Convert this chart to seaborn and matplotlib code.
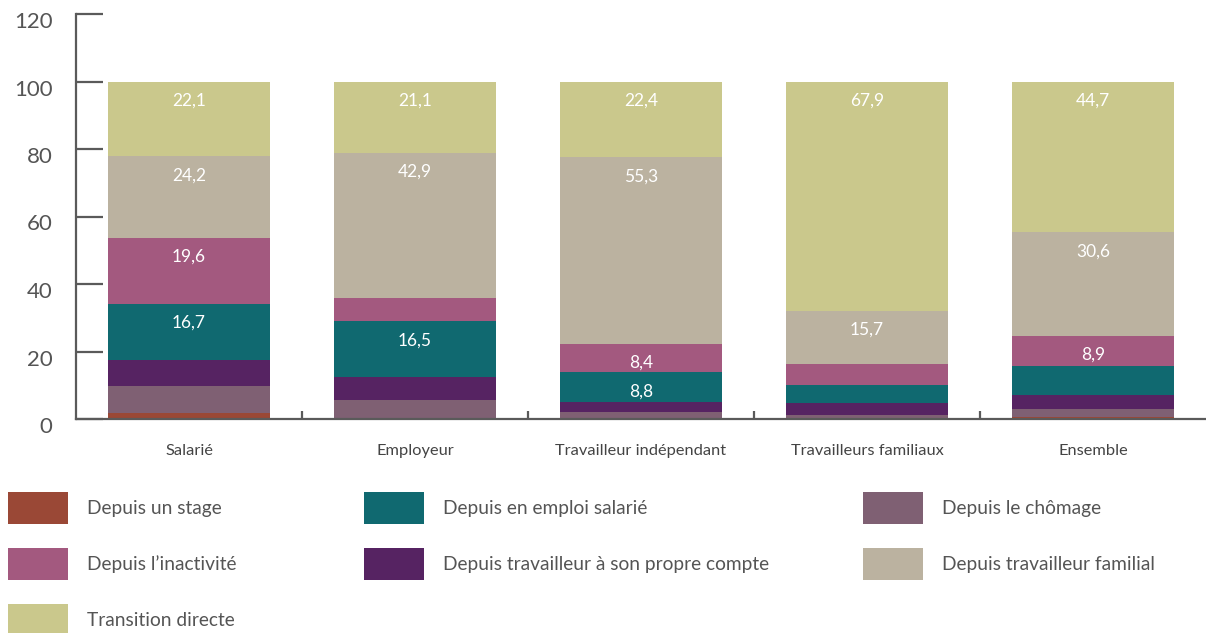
import matplotlib
matplotlib.use("Agg")
import numpy as np
import matplotlib.pyplot as plt
import seaborn as sns
from matplotlib.patches import Patch
from matplotlib.transforms import ScaledTranslation

# Situation before the current job, by employment status (%)
categories = ["Salarié", "Employeur", "Travailleur indépendant",
              "Travailleurs familiaux", "Ensemble"]

stage = [1.9, 0.0, 0.0, 0.0, 0.7]
chomage = [8.0, 5.5, 2.1, 1.3, 2.3]
propre_compte = [7.5, 7.0, 3.0, 3.5, 4.1]
emploi_salarie = [16.7, 16.5, 8.8, 5.4, 8.7]
inactivite = [19.6, 7.0, 8.4, 6.2, 8.9]
familial = [24.2, 42.9, 55.3, 15.7, 30.6]
directe = [22.1, 21.1, 22.4, 67.9, 44.7]

# which segments carry a printed value
show_stage = [False] * 5
show_chomage = [False] * 5
show_propre = [False] * 5
show_emploi = [True, True, True, False, False]
show_inact = [True, False, True, False, True]
show_familial = [True, True, True, True, True]
show_directe = [True, True, True, True, True]

series_labels = ["Depuis un stage", "Depuis le chômage",
                 "Depuis travailleur à son propre compte",
                 "Depuis en emploi salarié", "Depuis l’inactivité",
                 "Depuis travailleur familial", "Transition directe"]
series_values = [stage, chomage, propre_compte, emploi_salarie,
                 inactivite, familial, directe]
series_shown = [show_stage, show_chomage, show_propre, show_emploi,
                show_inact, show_familial, show_directe]
series_colors = ["#9A4836", "#7F6073", "#562362", "#106970",
                 "#A3597F", "#BBB2A0", "#CAC88C"]

sns.set_theme(style="white")
plt.rcParams["font.family"] = ["Lato", "DejaVu Sans"]

TEXT = "#555555"
AXIS = "#5a5a5a"

fig = plt.figure(figsize=(12.06, 6.33), dpi=100)
ax = fig.add_axes([76 / 1206, 1 - 419 / 633, 1 - 76 / 1206, (419 - 14) / 633])

vals = np.array(series_values)
tops = np.cumsum(vals, axis=0)

# stacked bars: draw cumulative totals from the top layer downwards
for k in range(len(series_values) - 1, -1, -1):
    sns.barplot(x=categories, y=tops[k], color=series_colors[k],
                saturation=1, width=0.72, linewidth=0, ax=ax)

for k, (row, shown) in enumerate(zip(series_values, series_shown)):
    for i, (v, s) in enumerate(zip(row, shown)):
        if s:
            ax.annotate(f"{v:.1f}".replace(".", ","), xy=(i, tops[k][i]),
                        xytext=(0, -13.8), textcoords="offset points",
                        ha="center", va="center", color="white", fontsize=12.5)

ax.set_xlim(-0.5, 4.5)
ax.set_ylim(0, 120)
ax.set_yticks(range(0, 121, 20))
ax.set_xlabel("")
ax.set_ylabel("")

for side in ("top", "right"):
    ax.spines[side].set_visible(False)
for side in ("left", "bottom"):
    ax.spines[side].set_color(AXIS)
    ax.spines[side].set_linewidth(1.6)

ax.tick_params(axis="y", left=True, direction="in", length=19.5, width=1.6,
               color=AXIS, pad=17, labelsize=16, labelcolor=TEXT)
ax.tick_params(axis="x", which="major", bottom=True, length=0, pad=18,
               labelsize=11.8, labelcolor="#444444")
ax.set_xticks([0.5, 1.5, 2.5, 3.5], minor=True)
ax.tick_params(axis="x", which="minor", bottom=True, direction="in",
               length=6, width=1.6, color=AXIS)

shift = ScaledTranslation(0, -6 / 100, fig.dpi_scale_trans)
for lab in ax.get_yticklabels():
    lab.set_transform(lab.get_transform() + shift)

# legend in three columns
legend_cols = [[0, 4, 6], [3, 2], [1, 5]]
legend_x = [8, 364, 863]
for cols, x0 in zip(legend_cols, legend_x):
    handles = [Patch(facecolor=series_colors[k], edgecolor="none") for k in cols]
    labels = [series_labels[k] for k in cols]
    fig.legend(handles, labels, loc="upper left",
               bbox_to_anchor=(x0 / 1206, 1 - 492 / 633),
               frameon=False, fontsize=13.8, handlelength=3.13,
               handleheight=2.2, handletextpad=1.0, labelspacing=1.24,
               borderpad=0, borderaxespad=0, labelcolor=TEXT)

fig.savefig("out.png", dpi=100)
